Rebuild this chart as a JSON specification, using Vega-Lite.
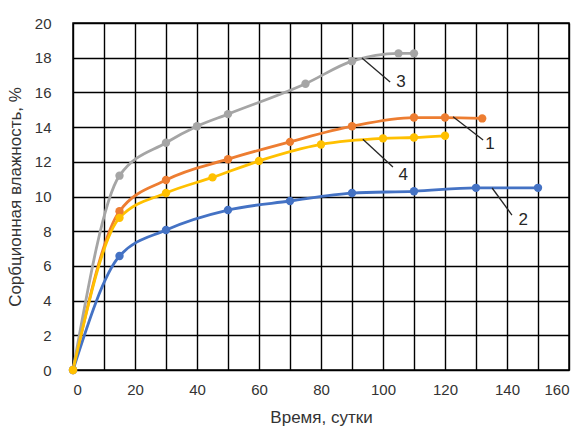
{
  "$schema": "https://vega.github.io/schema/vega-lite/v6.json",
  "autosize": "none",
  "width": 496,
  "height": 347,
  "padding": {"left": 73, "top": 23, "right": 16, "bottom": 60},
  "background": "white",
  "config": {
    "view": {"stroke": "#000000", "strokeWidth": 1.5},
    "font": "Liberation Sans",
    "axis": {
      "grid": true, "gridColor": "#000000", "gridWidth": 1.4, "gridOpacity": 1,
      "domain": false, "ticks": false, "labelOverlap": false,
      "labelFont": "Liberation Sans", "labelFontSize": 15, "labelColor": "#333333",
      "titleFont": "Liberation Sans", "titleFontSize": 17, "titleFontWeight": "normal", "titleColor": "#333333"
    }
  },
  "datasets": {
    "curves": [
      {"series": "1", "t": 0, "w": 0},
      {"series": "1", "t": 15, "w": 9.15},
      {"series": "1", "t": 30, "w": 10.95},
      {"series": "1", "t": 50, "w": 12.15},
      {"series": "1", "t": 70, "w": 13.15},
      {"series": "1", "t": 90, "w": 14.05},
      {"series": "1", "t": 110, "w": 14.55},
      {"series": "1", "t": 120, "w": 14.55},
      {"series": "1", "t": 132, "w": 14.5},
      {"series": "2", "t": 0, "w": 0},
      {"series": "2", "t": 15, "w": 6.57},
      {"series": "2", "t": 30, "w": 8.07},
      {"series": "2", "t": 50, "w": 9.22},
      {"series": "2", "t": 70, "w": 9.74},
      {"series": "2", "t": 90, "w": 10.2},
      {"series": "2", "t": 110, "w": 10.3},
      {"series": "2", "t": 130, "w": 10.5},
      {"series": "2", "t": 150, "w": 10.5},
      {"series": "3", "t": 0, "w": 0},
      {"series": "3", "t": 15, "w": 11.2},
      {"series": "3", "t": 30, "w": 13.1},
      {"series": "3", "t": 40, "w": 14.05},
      {"series": "3", "t": 50, "w": 14.75},
      {"series": "3", "t": 75, "w": 16.5},
      {"series": "3", "t": 90, "w": 17.8},
      {"series": "3", "t": 105, "w": 18.25},
      {"series": "3", "t": 110, "w": 18.25},
      {"series": "4", "t": 0, "w": 0},
      {"series": "4", "t": 15, "w": 8.77},
      {"series": "4", "t": 30, "w": 10.2},
      {"series": "4", "t": 45, "w": 11.1},
      {"series": "4", "t": 60, "w": 12.05},
      {"series": "4", "t": 80, "w": 13.0},
      {"series": "4", "t": 100, "w": 13.35},
      {"series": "4", "t": 110, "w": 13.4},
      {"series": "4", "t": 120, "w": 13.5}
    ],
    "leaders": [
      {"label": "3", "t": 93.2, "w": 17.98, "t2": 102.3, "w2": 16.6},
      {"label": "1", "t": 122.6, "w": 14.6, "t2": 132.3, "w2": 13.26},
      {"label": "4", "t": 93.5, "w": 13.3, "t2": 103.2, "w2": 11.7},
      {"label": "2", "t": 135.2, "w": 10.49, "t2": 141.6, "w2": 8.93}
    ],
    "labels": [
      {"label": "3", "t": 105.8, "w": 16.6},
      {"label": "1", "t": 134.5, "w": 13.03},
      {"label": "4", "t": 106.5, "w": 11.24},
      {"label": "2", "t": 145.2, "w": 8.64}
    ]
  },
  "encoding": {
    "x": {
      "field": "t", "type": "quantitative",
      "scale": {"domain": [0, 160], "nice": false},
      "axis": {
        "title": "Время, сутки",
        "values": [0, 10, 20, 30, 40, 50, 60, 70, 80, 90, 100, 110, 120, 130, 140, 150, 160],
        "labelExpr": "datum.value % 20 == 0 ? datum.label : ''",
        "labelPadding": 12,
        "titlePadding": 12
      }
    },
    "y": {
      "field": "w", "type": "quantitative",
      "scale": {"domain": [0, 20], "nice": false},
      "axis": {
        "title": "Сорбционная влажность, %",
        "values": [0, 2, 4, 6, 8, 10, 12, 14, 16, 18, 20],
        "labelPadding": 22,
        "titlePadding": 10
      }
    }
  },
  "layer": [
    {
      "data": {"name": "curves"},
      "mark": {"type": "line", "interpolate": "monotone", "strokeWidth": 2.8},
      "encoding": {
        "color": {
          "field": "series", "type": "nominal",
          "scale": {"domain": ["1", "2", "3", "4"], "range": ["#ED7D31", "#4472C4", "#A5A5A5", "#FFC000"]},
          "legend": null
        },
        "order": {"field": "t", "type": "quantitative"}
      }
    },
    {
      "data": {"name": "curves"},
      "mark": {"type": "point", "filled": true, "opacity": 1},
      "encoding": {
        "color": {"field": "series", "type": "nominal", "legend": null},
        "size": {
          "field": "series", "type": "nominal",
          "scale": {"domain": ["1", "2", "3", "4"], "range": [70, 70, 115, 130]},
          "legend": null
        }
      }
    },
    {
      "data": {"name": "leaders"},
      "mark": {"type": "rule", "color": "#262626", "strokeWidth": 1.3},
      "encoding": {
        "x2": {"field": "t2"},
        "y2": {"field": "w2"}
      }
    },
    {
      "data": {"name": "labels"},
      "mark": {"type": "text", "fontSize": 17, "font": "Liberation Sans", "color": "#262626", "align": "center", "baseline": "middle"},
      "encoding": {
        "text": {"field": "label"}
      }
    }
  ]
}
